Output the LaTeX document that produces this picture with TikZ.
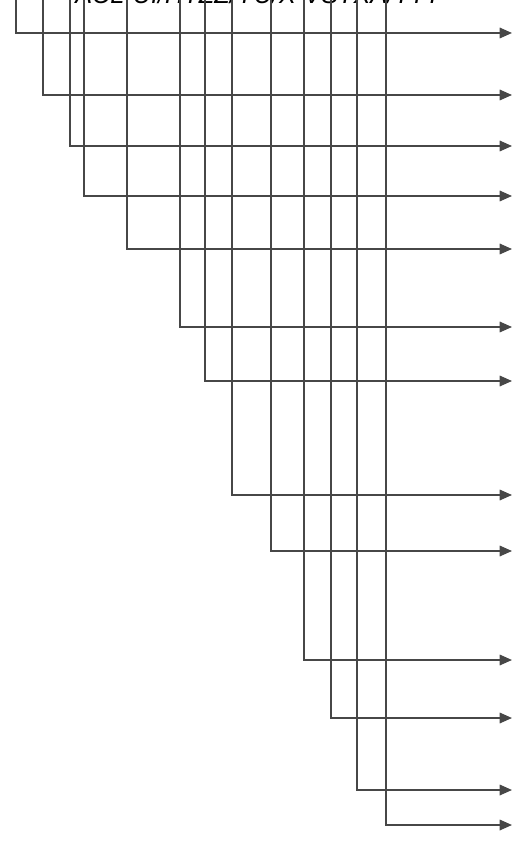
\documentclass[tikz,border=0pt]{standalone}
\usepackage{fontspec}
\setsansfont{Liberation Sans}
\usetikzlibrary{arrows.meta}

\begin{document}
\begin{tikzpicture}[x=0.02cm, y=-0.02cm, >={Triangle[length=7pt, width=6pt]}]
\tikzstyle{feed} = [draw, ->, line width=0.9pt, black!72]
\tikzstyle{caption} = [font=\sffamily\itshape\Large, anchor=base, inner sep=0pt]
\useasboundingbox (0,0) rectangle (515,854);

% Label cut by the top edge
\node [caption] (title) at (258,4) {ACL-UI/HTZZ/YU/X-VSTXA/TTT};

% Start points on the top edge
\coordinate (S1) at (16,-2);
\coordinate (S2) at (43,-2);
\coordinate (S3) at (70,-2);
\coordinate (S4) at (84,-2);
\coordinate (S5) at (127,-2);
\coordinate (S6) at (180,-2);
\coordinate (S7) at (205,-2);
\coordinate (S8) at (232,-2);
\coordinate (S9) at (271,-2);
\coordinate (S10) at (304,-2);
\coordinate (S11) at (331,-2);
\coordinate (S12) at (357,-2);
\coordinate (S13) at (386,-2);

% End points on the right
\coordinate (E1) at (512,33);
\coordinate (E2) at (512,95);
\coordinate (E3) at (512,146);
\coordinate (E4) at (512,196);
\coordinate (E5) at (512,249);
\coordinate (E6) at (512,327);
\coordinate (E7) at (512,381);
\coordinate (E8) at (512,495);
\coordinate (E9) at (512,551);
\coordinate (E10) at (512,660);
\coordinate (E11) at (512,718);
\coordinate (E12) at (512,790);
\coordinate (E13) at (512,825);

% Feed lines
\draw [feed] (S1) |- (E1);
\draw [feed] (S2) |- (E2);
\draw [feed] (S3) |- (E3);
\draw [feed] (S4) |- (E4);
\draw [feed] (S5) |- (E5);
\draw [feed] (S6) |- (E6);
\draw [feed] (S7) |- (E7);
\draw [feed] (S8) |- (E8);
\draw [feed] (S9) |- (E9);
\draw [feed] (S10) |- (E10);
\draw [feed] (S11) |- (E11);
\draw [feed] (S12) |- (E12);
\draw [feed] (S13) |- (E13);

\end{tikzpicture}
\end{document}
